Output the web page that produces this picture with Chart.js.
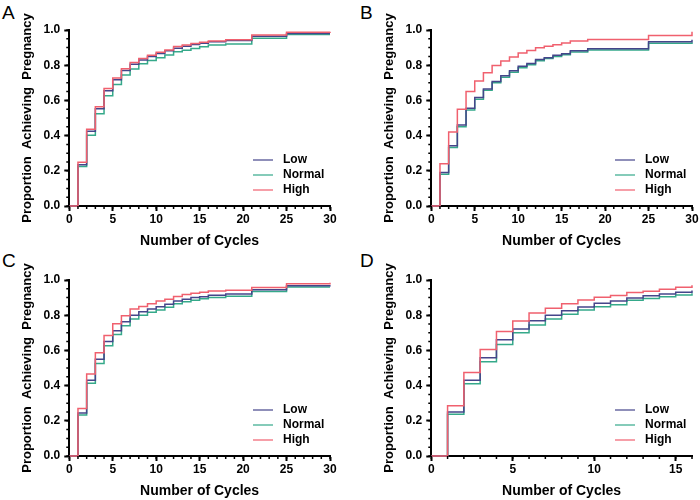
<!DOCTYPE html>
<html>
<head>
<meta charset="utf-8">
<script src="https://cdn.jsdelivr.net/npm/chart.js@4.4.1/dist/chart.umd.min.js"></script>
<style>
    body { margin: 0; width: 700px; height: 500px; overflow: hidden; background: #fff; font-family: "Liberation Sans", Arial, sans-serif; }
    canvas { position: absolute; }
    .letter { position: absolute; font-size: 19px; line-height: 19px; color: #000; }
</style>
</head>
<body>
<div class="letter" style="left:2px;top:3px">A</div>
<div class="letter" style="left:360px;top:3px">B</div>
<div class="letter" style="left:2px;top:251px">C</div>
<div class="letter" style="left:360px;top:251px">D</div>
<canvas id="chartA" width="350" height="250" style="left:0;top:0"></canvas>
<canvas id="chartB" width="338" height="250" style="left:362px;top:0"></canvas>
<canvas id="chartC" width="350" height="250" style="left:0;top:250px"></canvas>
<canvas id="chartD" width="338" height="250" style="left:362px;top:250px"></canvas>
<script>
const seriesNames = ['Low', 'Normal', 'High'];
const seriesColors = ['#45458a', '#35a98a', '#f0606e'];
const yTicks = [0, 0.2, 0.4, 0.6, 0.8, 1.0];

// panel A
const cyclesA = [0,1,2,3,4,5,6,7,8,9,10,11,12,13,14,15,16,18,21,25,30];
const lowA    = [0,.235,.425,.553,.655,.718,.770,.805,.830,.850,.866,.882,.897,.908,.917,.925,.933,.940,.965,.980,.980];
const normalA = [0,.225,.402,.524,.626,.690,.745,.778,.808,.826,.842,.858,.876,.885,.895,.905,.915,.920,.953,.975,.975];
const highA   = [0,.248,.436,.564,.667,.727,.780,.816,.838,.857,.874,.887,.906,.915,.923,.930,.938,.944,.972,.987,.990];

// panel B
const cyclesB = [0,1,2,3,4,5,6,7,8,9,10,11,12,13,14,15,16,18,25,30];
const lowB    = [0,.190,.342,.460,.555,.617,.665,.708,.740,.768,.794,.810,.833,.843,.857,.865,.882,.894,.933,.945];
const normalB = [0,.180,.333,.450,.545,.607,.658,.700,.732,.760,.786,.803,.825,.838,.850,.860,.875,.887,.925,.930];
const highB   = [0,.240,.420,.550,.650,.710,.757,.798,.824,.846,.869,.884,.899,.908,.916,.926,.937,.946,.969,.990];

// panel C
const cyclesC = [0,1,2,3,4,5,6,7,8,9,10,11,12,13,14,15,16,18,21,25,30];
const lowC    = [0,.245,.430,.550,.650,.712,.763,.800,.820,.835,.848,.862,.880,.890,.900,.905,.913,.920,.945,.967,.970];
const normalC = [0,.233,.413,.525,.627,.690,.740,.778,.800,.817,.830,.845,.865,.877,.885,.893,.900,.908,.935,.960,.960];
const highC   = [0,.270,.466,.586,.684,.752,.797,.835,.850,.865,.880,.891,.906,.917,.925,.930,.938,.942,.957,.979,.985];

// panel D
const cyclesD = [0,1,2,3,4,5,6,7,8,9,10,11,12,13,14,15,16];
const lowD    = [0,.250,.430,.558,.660,.722,.768,.800,.825,.847,.868,.880,.898,.910,.920,.930,.940];
const normalD = [0,.237,.410,.535,.634,.700,.745,.778,.805,.830,.848,.860,.885,.895,.905,.915,.925];
const highD   = [0,.286,.474,.605,.707,.767,.812,.840,.865,.887,.902,.912,.929,.936,.947,.959,.970];

Chart.defaults.font.family = '"Liberation Sans", Arial, sans-serif';
Chart.defaults.color = '#000';

// small ticks between the labelled ones, and the legend inside the plot
const extras = {
    id: 'extras',
    afterDraw(chart) {
        const ctx = chart.ctx;
        const xs = chart.scales.x, ys = chart.scales.y;
        const area = chart.chartArea;
        ctx.save();
        ctx.strokeStyle = '#000';
        ctx.lineWidth = 1.5;
        ctx.beginPath();
        for (let v = xs.min; v <= xs.max; v++) {
            const px = xs.getPixelForValue(v);
            ctx.moveTo(px, area.bottom);
            ctx.lineTo(px, area.bottom + 3);
        }
        for (let i = 0; i <= 20; i++) {
            const py = ys.getPixelForValue(i * 0.05);
            ctx.moveTo(area.left, py);
            ctx.lineTo(area.left - 3, py);
        }
        ctx.stroke();

        ctx.font = 'bold 12px "Liberation Sans", Arial, sans-serif';
        ctx.textBaseline = 'middle';
        ctx.fillStyle = '#000';
        chart.data.datasets.forEach((ds, i) => {
            const yy = area.bottom - 46 + i * 15;
            ctx.strokeStyle = ds.borderColor;
            ctx.lineWidth = 1.2;
            ctx.beginPath();
            ctx.moveTo(area.right - 77, yy);
            ctx.lineTo(area.right - 57, yy);
            ctx.stroke();
            ctx.fillText(ds.label, area.right - 47, yy);
        });
        ctx.restore();
    }
};

function makePanel(id, cycles, low, normal, high, xMax, padRight) {
    const values = [low, normal, high];
    const datasets = seriesNames.map((name, i) => ({
        label: name,
        data: cycles.map((c, k) => ({ x: c, y: values[i][k] })),
        borderColor: seriesColors[i],
        borderWidth: 1.5,
        stepped: true,
        pointRadius: 0,
        fill: false,
        clip: false,
        order: i === 2 ? 0 : i + 1
    }));
    new Chart(document.getElementById(id), {
        type: 'line',
        data: { datasets },
        plugins: [extras],
        options: {
            responsive: false,
            animation: false,
            layout: { padding: { left: 16, right: padRight, top: 30, bottom: 0 } },
            plugins: { legend: { display: false }, tooltip: { enabled: false } },
            scales: {
                x: {
                    type: 'linear',
                    min: 0,
                    max: xMax,
                    border: { color: '#000', width: 2 },
                    grid: { drawOnChartArea: false, tickLength: 5, tickColor: '#000', tickWidth: 2 },
                    ticks: { stepSize: 5, includeBounds: false, maxRotation: 0, padding: 1, font: { size: 12, weight: 'bold' } },
                    title: { display: true, text: 'Number of Cycles', padding: { top: 5.8, bottom: 0 }, font: { size: 14, weight: 'bold' } }
                },
                y: {
                    min: 0,
                    max: 1,
                    afterBuildTicks: scale => { scale.ticks = yTicks.map(v => ({ value: v })); },
                    border: { color: '#000', width: 2 },
                    grid: { drawOnChartArea: false, tickLength: 5, tickColor: '#000', tickWidth: 2 },
                    ticks: { padding: 4, font: { size: 12, weight: 'bold' }, callback: v => v.toFixed(1) },
                    title: { display: true, text: 'Proportion  Achieving  Pregnancy', padding: { top: 4, bottom: 4 }, font: { size: 13, weight: 'bold' } }
                }
            }
        }
    });
}

makePanel('chartA', cyclesA, lowA, normalA, highA, 30, 20);
makePanel('chartB', cyclesB, lowB, normalB, highB, 30, 8);
makePanel('chartC', cyclesC, lowC, normalC, highC, 30, 20);
makePanel('chartD', cyclesD, lowD, normalD, highD, 16, 8);
</script>
</body>
</html>
